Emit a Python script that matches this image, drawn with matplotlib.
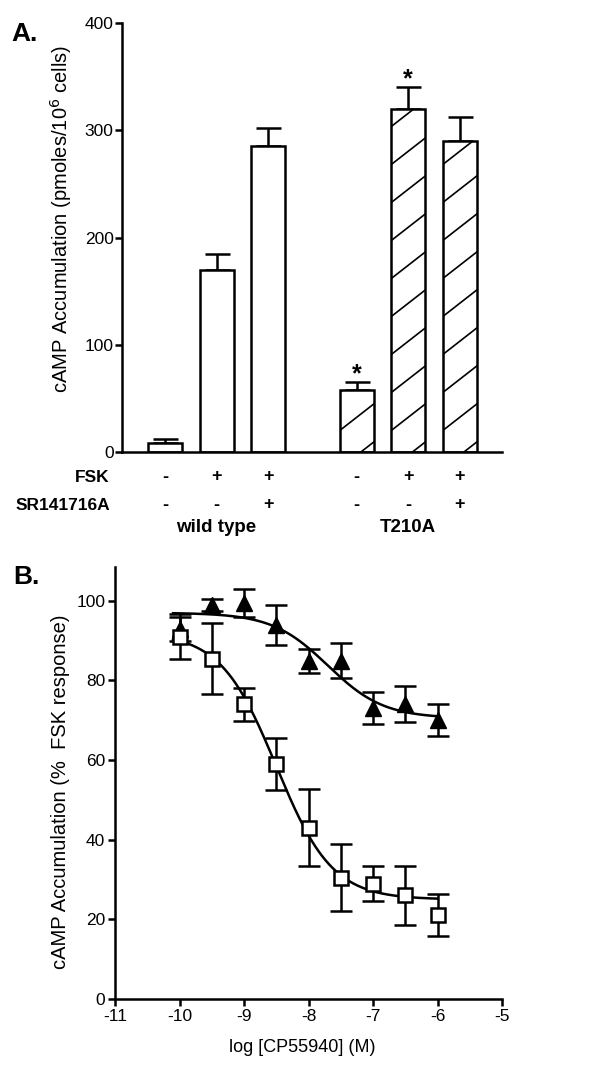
import numpy as np
import matplotlib
matplotlib.use("Agg")
import matplotlib.pyplot as plt

plt.rcParams['font.family'] = ['Liberation Sans', 'DejaVu Sans']

# ---------------- Panel A data ----------------
bar_groups = ["wild type", "wild type", "wild type", "T210A", "T210A", "T210A"]
fsk_signs = ["-", "+", "+", "-", "+", "+"]
sr_signs = ["-", "-", "+", "-", "-", "+"]
camp_values = [8, 170, 285, 58, 320, 290]
camp_errors = [4, 15, 17, 7, 20, 22]
significant = [False, False, False, True, True, False]
group_names = ["wild type", "T210A"]
a_yticks = [0, 100, 200, 300, 400]

# ---------------- Panel B data ----------------
log_conc = [-10, -9.5, -9, -8.5, -8, -7.5, -7, -6.5, -6]
tri_values = [93, 99, 99.5, 94, 85, 85, 73, 74, 70]
tri_errors = [3, 1.5, 3.5, 5, 3, 4.5, 4, 4.5, 4]
sq_values = [91, 85.5, 74, 59, 43, 30.5, 29, 26, 21]
sq_errors = [5.7, 9, 4.2, 6.5, 9.7, 8.5, 4.4, 7.3, 5.3]
# sigmoidal fit parameters (top, bottom, logIC50, hill)
tri_fit = (97.0, 70.5, -7.7, 1.0)
sq_fit = (92.0, 25.0, -8.5, 1.0)
b_xticks = [-11, -10, -9, -8, -7, -6, -5]
b_yticks = [0, 20, 40, 60, 80, 100]

W, H = 615, 1070
fig = plt.figure(figsize=(W / 100, H / 100), dpi=100)


def rect(l, r, t, b):
    return [l / W, 1 - b / H, (r - l) / W, (b - t) / H]


LW = 1.8
TICKFS = 12.5

# ================= Panel A =================
axA = fig.add_axes(rect(122, 502, 23, 452))
group_idx = [group_names.index(g) for g in bar_groups]
gap = 0.72
pos = [i + gap * g for i, g in enumerate(group_idx)]
width = 0.66
hatched = [g == 1 for g in group_idx]

axA.errorbar(pos, camp_values, yerr=[[0] * len(camp_values), camp_errors],
             fmt='none', ecolor='black', elinewidth=LW, capsize=9,
             capthick=LW, zorder=1)
bars = axA.bar(pos, camp_values, width=width, color='white',
               edgecolor='black', linewidth=LW, zorder=2)
axA.set_xlim(-0.835, 6.54)
axA.set_ylim(0, 400)

# manual sparse hatching
fig.canvas.draw()
bbox = axA.get_window_extent()
x0, x1 = axA.get_xlim()
y0, y1 = axA.get_ylim()
px_x = bbox.width / (x1 - x0)
px_y = bbox.height / (y1 - y0)
slope = 0.78 * px_x / px_y
spacing = 38 / px_y
for b, h in zip(bars, hatched):
    if not h:
        continue
    left = b.get_x()
    right = left + b.get_width()
    top = b.get_height()
    xs = np.array([left, right])
    for k in range(-30, 30):
        ys = 20 + k * spacing + slope * (xs - left)
        if ys[1] < 0 or ys[0] > top:
            continue
        ln, = axA.plot(xs, ys, color='black', lw=1.2, zorder=3)
        ln.set_clip_path(b)

for p, v, e, s in zip(pos, camp_values, camp_errors, significant):
    if s:
        axA.text(p, v + e + 1, "*", ha='center', va='baseline',
                 fontsize=18, fontweight='bold')

for sp in ['top', 'right']:
    axA.spines[sp].set_visible(False)
axA.spines['left'].set_linewidth(LW)
axA.spines['bottom'].set_linewidth(LW)
axA.set_xticks([])
axA.set_yticks(a_yticks)
axA.tick_params(axis='y', length=5, width=LW, labelsize=TICKFS, pad=1)
axA.set_ylabel("cAMP Accumulation (pmoles/10$^{6}$ cells)", fontsize=14.5)
axA.yaxis.set_label_coords((74 - 122) / 380, (452 - 219) / 429)

# condition table
trans = axA.get_xaxis_transform()
row_y = [(452 - 477) / 429, (452 - 505) / 429]
fig.text(110 / W, 1 - 477 / H, "FSK", ha='right', va='center',
         fontsize=12.5, fontweight='bold')
fig.text(110 / W, 1 - 505 / H, "SR141716A", ha='right', va='center',
         fontsize=12.5, fontweight='bold')
for p, f, s in zip(pos, fsk_signs, sr_signs):
    axA.text(p, row_y[0], f, transform=trans, ha='center', va='center',
             fontsize=13, fontweight='bold')
    axA.text(p, row_y[1], s, transform=trans, ha='center', va='center',
             fontsize=13, fontweight='bold')
for gi, name in enumerate(group_names):
    gp = [p for p, g in zip(pos, group_idx) if g == gi]
    axA.text(np.mean(gp), (452 - 528) / 429, name, transform=trans,
             ha='center', va='center', fontsize=13.5, fontweight='bold')

fig.text(11 / W, 1 - 34 / H, "A.", ha='left', va='center', fontsize=19,
         fontweight='bold')

# ================= Panel B =================
axB = fig.add_axes(rect(115, 502, 567, 999))
xx = np.linspace(-10.1, -6.0, 300)


def logistic(x, p):
    top, bottom, ic50, hill = p
    return bottom + (top - bottom) / (1 + 10 ** (hill * (x - ic50)))


axB.plot(xx, logistic(xx, tri_fit), color='black', lw=LW, zorder=2)
axB.plot(xx, logistic(xx, sq_fit), color='black', lw=LW, zorder=2)
axB.errorbar(log_conc, tri_values, yerr=tri_errors, fmt='^', color='black',
             mfc='black', mec='black', ms=11, elinewidth=LW, capsize=8,
             capthick=LW, zorder=3)
axB.errorbar(log_conc, sq_values, yerr=sq_errors, fmt='s', color='black',
             mfc='white', mec='black', mew=1.8, ms=9.5, elinewidth=LW,
             capsize=8, capthick=LW, zorder=4)
axB.set_xlim(-11, -5)
axB.set_ylim(0, 108.5)
axB.set_xticks(b_xticks)
axB.set_xticklabels([str(t) for t in b_xticks])
axB.set_yticks(b_yticks)
for sp in ['top', 'right']:
    axB.spines[sp].set_visible(False)
axB.spines['left'].set_linewidth(LW)
axB.spines['bottom'].set_linewidth(LW)
axB.tick_params(length=5, width=LW, labelsize=TICKFS, pad=2)
axB.set_ylabel("cAMP Accumulation (%  FSK response)", fontsize=14.5)
axB.yaxis.set_label_coords((70 - 115) / 387, (999 - 792) / 432)
axB.set_xlabel("log [CP55940] (M)", fontsize=13)
axB.xaxis.set_label_coords((302 - 115) / 387, -(1047 - 999) / 432)
axB.xaxis.label.set_va('center')

fig.text(13 / W, 1 - 577 / H, "B.", ha='left', va='center', fontsize=19,
         fontweight='bold')

fig.savefig("out.png", dpi=100)
